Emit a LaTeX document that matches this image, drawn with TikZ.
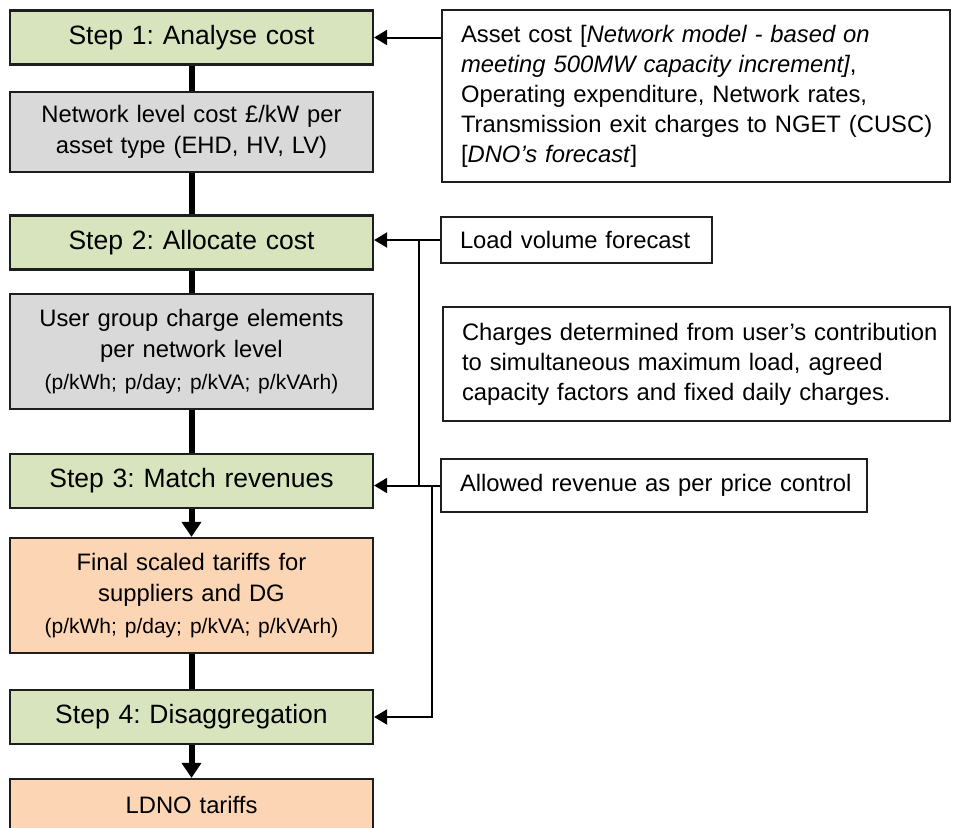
\documentclass[tikz,border=0pt]{standalone}
\usepackage{fontspec}
\setmainfont{Liberation Sans}
\usetikzlibrary{arrows.meta}
\frenchspacing
\definecolor{stepgreen}{HTML}{D7E4BD}
\definecolor{greyfill}{HTML}{D9D9D9}
\definecolor{orangefill}{HTML}{FCD5B5}
\definecolor{boxline}{HTML}{1E1E1E}
\newcommand{\smallf}{\fontsize{21}{31}\selectfont}
\begin{document}
\begin{tikzpicture}[x=1pt,y=-1pt,
  lbox/.style={draw=boxline, line width=2.2pt, minimum width=363pt, text width=343pt,
    align=center, inner xsep=10pt, inner ysep=0pt, font=\fontsize{23.8}{31.5}\selectfont},
  stepbox/.style={lbox, fill=stepgreen, minimum height=54pt, font=\fontsize{26.5}{31.5}\selectfont},
  greybox/.style={lbox, fill=greyfill},
  orangebox/.style={lbox, fill=orangefill},
  rbox/.style={draw=boxline, line width=2pt, align=left, inner xsep=19pt, inner ysep=0pt,
    font=\fontsize{23.8}{30}\selectfont},
  thickline/.style={line width=6pt, draw=black},
  thickarrow/.style={line width=6pt, draw=black, -{Triangle[width=19pt,length=15pt]}},
  thinline/.style={line width=2pt, draw=black},
  thinarrow/.style={line width=2pt, draw=black, -{Triangle[width=15pt,length=13pt]}}
]
\clip (0,0) rectangle (958,827);
\fill[white] (0,0) rectangle (958,827);

% left column
\node[stepbox] (s1) at (191.5,37.5) {Step 1: Analyse cost};
\node[greybox, minimum height=80pt] (g1) at (191.5,132) {Network level cost £/kW per\\asset type (EHD, HV, LV)};
\node[stepbox] (s2) at (191.5,242.5) {Step 2: Allocate cost};
\node[greybox, minimum height=115pt] (g2) at (191.5,351.5) {User group charge elements\\per network level\\{\smallf (p/kWh; p/day; p/kVA; p/kVArh)}};
\node[stepbox] (s3) at (191.5,481) {Step 3: Match revenues};
\node[orangebox, minimum height=115pt] (o1) at (191.5,595.5) {Final scaled tariffs for\\suppliers and DG\\{\smallf (p/kWh; p/day; p/kVA; p/kVArh)}};
\node[stepbox] (s4) at (191.5,717) {Step 4: Disaggregation};
\node[orangebox, minimum height=52pt] (o2) at (191.5,805) {LDNO tariffs};

% right column
\node[rbox, minimum height=172pt, text width=470pt] (asset) at (696,96)
  {\mbox{Asset cost [\textit{Network model - based on}}\\
   \mbox{\textit{meeting 500MW capacity increment]},}\\
   \mbox{Operating expenditure, Network rates,}\\
   \mbox{Transmission exit charges to NGET (CUSC)}\\
   \mbox{[\textit{DNO’s forecast}]}};
\node[rbox, minimum height=46pt, text width=233pt] (load) at (576.5,240) {\mbox{Load volume forecast}};
\node[rbox, minimum height=114pt, text width=469pt] (charges) at (696.5,364)
  {\mbox{Charges determined from user’s contribution}\\
   \mbox{to simultaneous maximum load, agreed}\\
   \mbox{capacity factors and fixed daily charges.}};
\node[rbox, minimum height=53pt, text width=388pt] (allowed) at (654,485.5) {\mbox{Allowed revenue as per price control}};

% thick vertical flow
\draw[thickline] (s1.south) -- (g1.north);
\draw[thickline] (g1.south) -- (s2.north);
\draw[thickline] (s2.south) -- (g2.north);
\draw[thickline] (g2.south) -- (s3.north);
\draw[thickarrow] (s3.south) -- (o1.north);
\draw[thickline] (o1.south) -- (s4.north);
\draw[thickarrow] (s4.south) -- (o2.north);

% inputs
\coordinate (j1) at (419,0);
\coordinate (j2) at (432,0);
\draw[thinarrow] (s1.east -| asset.west) -- (s1.east);
\draw[thinarrow] (load.west) -- (load.west -| s2.east);
\draw[thinline] (j1 |- load.west) -- (j1 |- allowed.west);
\draw[thinarrow] (allowed.west) -- (allowed.west -| s3.east);
\draw[thinarrow] (j2 |- allowed.west) -- (j2 |- s4.east) -- (s4.east);
\end{tikzpicture}
\end{document}
